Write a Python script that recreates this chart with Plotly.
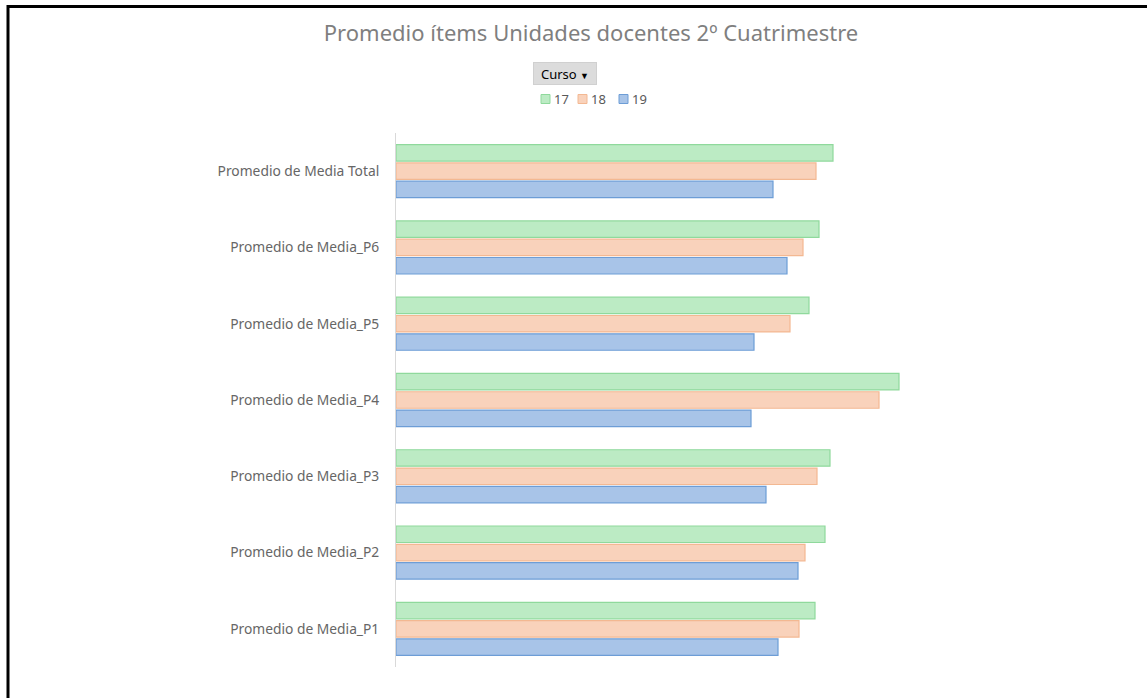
import plotly.graph_objects as go

categories = ["Promedio de Media Total", "Promedio de Media_P6", "Promedio de Media_P5",
              "Promedio de Media_P4", "Promedio de Media_P3", "Promedio de Media_P2",
              "Promedio de Media_P1"]
series_names = ["17", "18", "19"]
vals_17 = [8.74, 8.46, 8.26, 10.06, 8.68, 8.58, 8.38]
vals_18 = [8.40, 8.14, 7.88, 9.66, 8.42, 8.18, 8.06]
vals_19 = [7.54, 7.82, 7.16, 7.10, 7.40, 8.04, 7.64]

fills = ["#bcebc4", "#f9d2bb", "#a8c4e8"]
borders = ["#8fd99c", "#f3b892", "#6d9dd6"]

W, H = 1147, 698
L, R, T, B = 396, 1096, 133, 667

fig = go.Figure()
for name, vals, fc, bc in zip(series_names, [vals_17, vals_18, vals_19], fills, borders):
    fig.add_trace(go.Bar(
        y=categories, x=vals, name=name, orientation="h",
        marker=dict(color=fc, line=dict(color=bc, width=1.2)),
    ))

def px(x):
    return (x - L) / (R - L)

def py(y):
    return (B - y) / (B - T)

annotations = [dict(text="Curso <span style='font-size:9px'>▼</span>", xref="paper", yref="paper",
                    x=px(564.5), y=py(73.5), xanchor="center", yanchor="middle",
                    showarrow=False, bgcolor="#dcdcdc", bordercolor="#d0d0d0",
                    borderwidth=1, borderpad=3, width=56, height=15,
                    font=dict(size=13, color="#000000", family="Noto Sans"))]
shapes = [
    dict(type="line", xref="paper", yref="paper", x0=px(7), x1=px(W + 5),
         y0=py(6.5), y1=py(6.5), line=dict(color="black", width=3)),
    dict(type="line", xref="paper", yref="paper", x0=px(8), x1=px(8),
         y0=py(5), y1=py(H + 5), line=dict(color="black", width=3)),
]

# compact legend (swatch + label) like the original
leg_x = [541, 578, 619]
leg_y = 99
for lx, name, fc, bc in zip(leg_x, series_names, fills, borders):
    shapes.append(dict(type="rect", xref="paper", yref="paper",
                       x0=px(lx), x1=px(lx + 9), y0=py(leg_y - 4.5), y1=py(leg_y + 4.5),
                       fillcolor=fc, line=dict(color=bc, width=1)))
    annotations.append(dict(text=name, xref="paper", yref="paper",
                            x=px(lx + 11), y=py(leg_y), xanchor="left", yanchor="middle",
                            showarrow=False,
                            font=dict(size=13, color="#595959", family="Noto Sans")))

fig.update_layout(
    width=W, height=H,
    margin=dict(l=L, r=W - R, t=T, b=H - B),
    paper_bgcolor="white", plot_bgcolor="white",
    barmode="group", bargap=0.28, bargroupgap=0.1,
    showlegend=False,
    font=dict(family="Noto Sans", color="#595959"),
    title=dict(text="Promedio ítems Unidades docentes 2º Cuatrimestre",
               font=dict(size=22, color="#7f7f7f", family="Noto Sans"),
               xref="container", x=591 / W, xanchor="center",
               yref="container", y=1 - 33 / H, yanchor="middle"),
    xaxis=dict(range=[0, 14], showticklabels=False, showgrid=False, zeroline=False,
               showline=False, ticks=""),
    yaxis=dict(autorange="reversed", showline=True, linecolor="#d9d9d9", linewidth=1,
               ticks="outside", ticklen=13, tickcolor="rgba(0,0,0,0)",
               tickfont=dict(size=13.8, color="#666666", family="Noto Sans"),
               showgrid=False),
    annotations=annotations,
    shapes=shapes,
)

fig.write_html("out.html", config={"displayModeBar": False},
               post_script="document.body.style.margin='0';")
